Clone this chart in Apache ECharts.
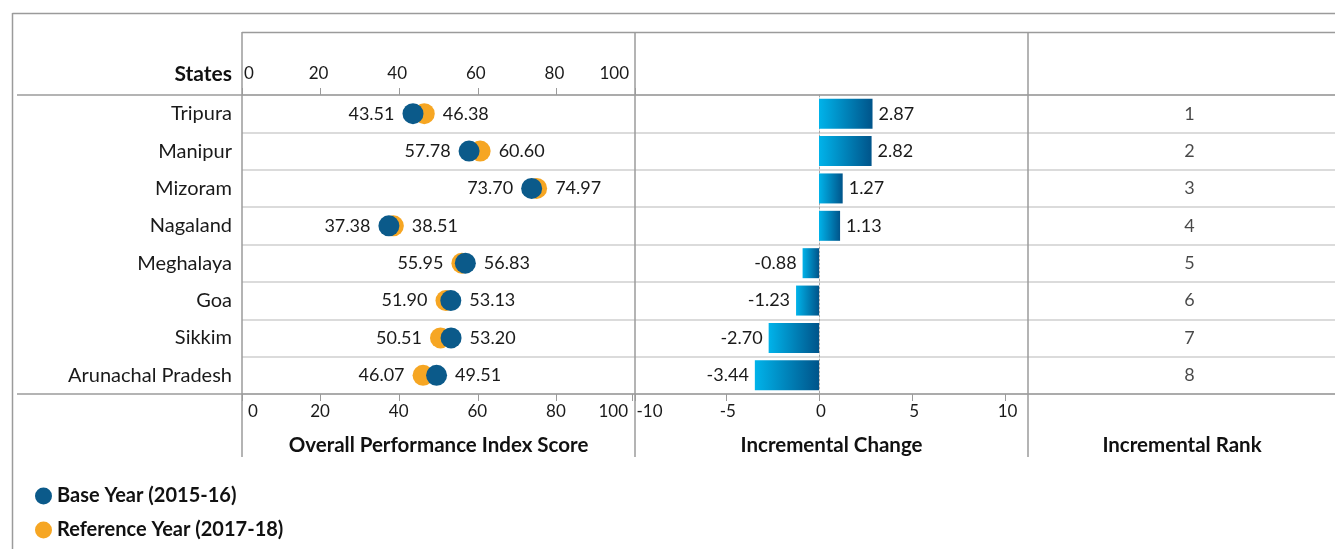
<!DOCTYPE html>
<html>
<head>
<meta charset="utf-8">
<script src="https://cdn.jsdelivr.net/npm/echarts@6/dist/echarts.min.js"></script>
<style>
html,body{margin:0;padding:0;background:#fff;}
#chart{width:1335px;height:549px;}
</style>
</head>
<body>
<div id="chart"></div>
<script>
const states = ['Tripura','Manipur','Mizoram','Nagaland','Meghalaya','Goa','Sikkim','Arunachal Pradesh'];
const baseYear = [43.51, 57.78, 73.70, 37.38, 56.83, 53.13, 53.20, 49.51];
const refYear = [46.38, 60.60, 74.97, 38.51, 55.95, 51.90, 50.51, 46.07];
const change = [2.87, 2.82, 1.27, 1.13, -0.88, -1.23, -2.70, -3.44];
const rank = [1, 2, 3, 4, 5, 6, 7, 8];
const seriesNames = ['Base Year (2015-16)', 'Reference Year (2017-18)'];
const panelTitles = ['Overall Performance Index Score', 'Incremental Change', 'Incremental Rank'];

const FONT = 'Lato';
const TXT = '#1a1a1a';
const FRAME = '#9b9b9b';
const ROWLINE = '#cfcfcf';
const BLUE = '#0b5a8a';
const ORANGE = '#f6a623';

function dotData(own, other) {
  return own.map((v, i) => ({
    value: [v, i],
    label: { position: v <= other[i] ? 'left' : 'right' }
  }));
}

const chart = echarts.init(document.getElementById('chart'));

const gridTop = 95, gridH = 299;

const option = {
  animation: false,
  textStyle: { fontFamily: FONT },
  grid: [
    { left: 242, width: 393, top: gridTop, height: gridH },          // 0 score panel
    { left: 632.5, width: 373, top: gridTop, height: gridH },        // 1 change panel
    { left: 242, right: 0, top: gridTop, height: gridH },            // 2 row lines
    { left: 1028, right: 0, top: gridTop, height: gridH }            // 3 rank panel
  ],
  xAxis: [
    { gridIndex: 0, type: 'value', min: 0, max: 100, interval: 20, position: 'bottom',
      axisLine: { show: false }, splitLine: { show: false },
      axisTick: { show: true, length: 7, lineStyle: { color: FRAME } },
      axisLabel: { fontSize: 17, color: TXT, fontFamily: FONT, margin: 9, alignMinLabel: 'left', alignMaxLabel: 'right', padding: [0, 7, 0, 6] } },
    { gridIndex: 0, type: 'value', min: 0, max: 100, interval: 20, position: 'top',
      axisLine: { show: false }, splitLine: { show: false },
      axisTick: { show: true, length: 7, lineStyle: { color: FRAME } },
      axisLabel: { fontSize: 17, color: TXT, fontFamily: FONT, margin: 13, alignMinLabel: 'left', alignMaxLabel: 'right', padding: [0, 6, 0, 2] } },
    { gridIndex: 1, type: 'value', min: -10, max: 10, interval: 5, position: 'bottom',
      axisLine: { show: false }, splitLine: { show: false },
      axisTick: { show: true, length: 7, lineStyle: { color: FRAME } },
      axisLabel: { fontSize: 17, color: TXT, fontFamily: FONT, margin: 9, alignMinLabel: 'left', padding: [0, 0, 0, 4] } },
    { gridIndex: 2, type: 'value', min: 0, max: 1, show: false },
    { gridIndex: 3, type: 'value', min: 0, max: 1, show: false }
  ],
  yAxis: [
    { gridIndex: 0, type: 'category', data: states, inverse: true,
      axisLine: { show: false }, axisTick: { show: false }, splitLine: { show: false },
      axisLabel: { fontSize: 20, color: TXT, fontFamily: FONT, margin: 10 } },
    { gridIndex: 1, type: 'category', data: states, inverse: true,
      axisLine: { show: true, onZero: true, lineStyle: { color: '#a8a8a8', type: [2, 2], width: 1 } },
      axisTick: { show: false }, axisLabel: { show: false }, splitLine: { show: false } },
    { gridIndex: 2, type: 'category', data: states, inverse: true,
      axisLine: { show: false }, axisTick: { show: false }, axisLabel: { show: false },
      splitLine: { show: true, lineStyle: { color: ROWLINE, width: 1.5 } } },
    { gridIndex: 3, type: 'category', data: states, inverse: true, show: false }
  ],
  legend: {
    data: seriesNames,
    orient: 'vertical', left: 30, top: 481,
    icon: 'circle', itemWidth: 17, itemHeight: 17, itemGap: 14,
    textStyle: { fontSize: 20, lineHeight: 20, fontWeight: 'bold', color: '#111', fontFamily: FONT }
  },
  series: [
    { name: seriesNames[1], type: 'scatter', xAxisIndex: 0, yAxisIndex: 0,
      symbolSize: 21, itemStyle: { color: ORANGE, opacity: 1 },
      label: { show: true, fontSize: 18, color: TXT, fontFamily: FONT, distance: 8,
        formatter: p => p.value[0].toFixed(2) },
      data: dotData(refYear, baseYear), z: 3 },
    { name: seriesNames[0], type: 'scatter', xAxisIndex: 0, yAxisIndex: 0,
      symbolSize: 21, itemStyle: { color: BLUE, opacity: 1 },
      label: { show: true, fontSize: 18, color: TXT, fontFamily: FONT, distance: 8,
        formatter: p => p.value[0].toFixed(2) },
      data: dotData(baseYear, refYear), z: 4 },
    { name: 'change', type: 'bar', xAxisIndex: 2, yAxisIndex: 1, barWidth: 30,
      itemStyle: { color: new echarts.graphic.LinearGradient(0, 0, 1, 0, [
        { offset: 0, color: '#00b3ea' }, { offset: 1, color: '#00548a' }]) },
      label: { show: true, fontSize: 18, color: TXT, fontFamily: FONT, distance: 6,
        formatter: p => p.value.toFixed(2) },
      data: change.map(v => ({ value: v, label: { position: v >= 0 ? 'right' : 'left' } })) },
    { name: 'rank', type: 'scatter', xAxisIndex: 4, yAxisIndex: 3, symbolSize: 0,
      label: { show: true, position: 'inside', offset: [8, 0], fontSize: 18, color: TXT, fontFamily: FONT,
        formatter: p => String(rank[p.dataIndex]) },
      data: rank.map((r, i) => [0.5, i]) }
  ],
  graphic: [
    // frame lines
    { type: 'line', shape: { x1: 12.5, y1: 13.5, x2: 1335, y2: 13.5 }, style: { stroke: FRAME, lineWidth: 1.5 }, z: 10 },
    { type: 'line', shape: { x1: 12.5, y1: 13, x2: 12.5, y2: 549 }, style: { stroke: FRAME, lineWidth: 1.5 }, z: 10 },
    { type: 'line', shape: { x1: 242, y1: 32.5, x2: 1335, y2: 32.5 }, style: { stroke: FRAME, lineWidth: 1.5 }, z: 10 },
    { type: 'line', shape: { x1: 17, y1: 95, x2: 1335, y2: 95 }, style: { stroke: FRAME, lineWidth: 1.5 }, z: 10 },
    { type: 'line', shape: { x1: 17, y1: 394, x2: 1335, y2: 394 }, style: { stroke: FRAME, lineWidth: 1.5 }, z: 10 },
    { type: 'line', shape: { x1: 242, y1: 32, x2: 242, y2: 457 }, style: { stroke: FRAME, lineWidth: 1.5 }, z: 10 },
    { type: 'line', shape: { x1: 635, y1: 32, x2: 635, y2: 457 }, style: { stroke: FRAME, lineWidth: 1.5 }, z: 10 },
    { type: 'line', shape: { x1: 1028, y1: 32, x2: 1028, y2: 457 }, style: { stroke: FRAME, lineWidth: 1.5 }, z: 10 },
    // headers / titles
    { type: 'text', x: 232, y: 74, style: { text: 'States', fontSize: 21, fontWeight: 'bold', fill: '#111', fontFamily: FONT, align: 'right', verticalAlign: 'middle' } },
    { type: 'text', x: 438.5, y: 445, style: { text: panelTitles[0], fontSize: 20.5, fontWeight: 'bold', fill: '#111', fontFamily: FONT, align: 'center', verticalAlign: 'middle' } },
    { type: 'text', x: 831.5, y: 445, style: { text: panelTitles[1], fontSize: 20.5, fontWeight: 'bold', fill: '#111', fontFamily: FONT, align: 'center', verticalAlign: 'middle' } },
    { type: 'text', x: 1182, y: 445, style: { text: panelTitles[2], fontSize: 20.5, fontWeight: 'bold', fill: '#111', fontFamily: FONT, align: 'center', verticalAlign: 'middle' } }
  ]
};
chart.setOption(option);
</script>
</body>
</html>
